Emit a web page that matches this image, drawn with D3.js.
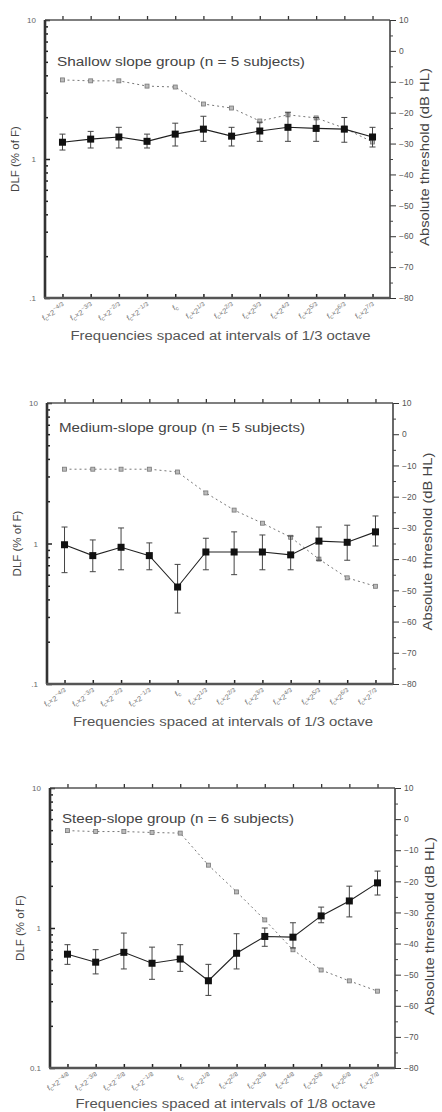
<!DOCTYPE html>
<html><head><meta charset="utf-8">
<script src="https://cdn.jsdelivr.net/npm/d3@7"></script>
<style>body{margin:0;background:#fff} svg{display:block}</style>
</head><body>
<script>
// ---------- data ----------
const stepsThird = ["-4/3","-3/3","-2/3","-1/3","","1/3","2/3","3/3","4/3","5/3","6/3","7/3"];
const stepsEighth = ["-4/8","-3/8","-2/8","-1/8","","1/8","2/8","3/8","4/8","5/8","6/8","7/8"];
const leftTicks = [0.1, 1, 10];
const leftTickLabels12 = [".1", "1", "10"];
const leftTickLabels3 = ["0.1", "1", "10"];
const rightTicks = [-80,-70,-60,-50,-40,-30,-20,-10,0,10];

const panelTitles = ["Shallow slope group (n = 5 subjects)",
                     "Medium-slope group (n = 5 subjects)",
                     "Steep-slope group (n = 6 subjects)"];
const xTitles = ["Frequencies spaced at intervals of 1/3 octave",
                 "Frequencies spaced at intervals of 1/3 octave",
                 "Frequencies spaced at intervals of 1/8 octave"];
const yLeftTitle = "DLF (% of F)";
const yRightTitle = "Absolute threshold (dB HL)";

// Shallow
const dlfShallow   = [1.32,1.39,1.44,1.34,1.51,1.64,1.46,1.59,1.69,1.66,1.64,1.44];
const dlfShallowLo = [1.16,1.20,1.20,1.20,1.24,1.34,1.24,1.34,1.34,1.34,1.32,1.22];
const dlfShallowHi = [1.51,1.58,1.69,1.51,1.81,2.03,1.69,1.84,2.17,1.99,1.99,1.69];
const thrShallow   = [-9.4,-9.7,-9.7,-11.4,-11.7,-17.2,-18.5,-22.7,-20.7,-21.7,-25,-29.5];
// Medium
const dlfMedium    = [0.98,0.82,0.94,0.82,0.49,0.87,0.87,0.87,0.83,1.04,1.02,1.21];
const dlfMediumLo  = [0.62,0.63,0.65,0.65,0.32,0.65,0.60,0.65,0.65,0.76,0.76,0.96];
const dlfMediumHi  = [1.31,1.06,1.29,1.01,0.71,1.09,1.21,1.15,1.13,1.31,1.35,1.57];
const thrMedium    = [-11.2,-11.2,-11.2,-11.2,-12.1,-18.8,-24.3,-28.5,-33,-40,-46,-48.7];
// Steep
const dlfSteep     = [0.65,0.57,0.67,0.56,0.60,0.42,0.66,0.87,0.86,1.22,1.56,2.10];
const dlfSteepLo   = [0.55,0.47,0.51,0.43,0.49,0.33,0.51,0.74,0.72,1.09,1.20,1.72];
const dlfSteepHi   = [0.76,0.70,0.92,0.73,0.76,0.55,0.91,1.00,1.09,1.41,1.99,2.55];
const thrSteep     = [-3.7,-4,-4,-4.3,-4.5,-14.8,-23.4,-32.4,-42,-48.5,-52,-55.3];

// ---------- layout ----------
const W = 442, H = 1112;
const panels = [
  {L:45, R:390, T:20,  B:298, steps:stepsThird,  lbl:leftTickLabels12, dlf:dlfShallow, lo:dlfShallowLo, hi:dlfShallowHi, thr:thrShallow, title:panelTitles[0], xt:xTitles[0], titleY:66, xtY:340, titleW:248},
  {L:47, R:393, T:403, B:684, steps:stepsThird,  lbl:leftTickLabels12, dlf:dlfMedium,  lo:dlfMediumLo,  hi:dlfMediumHi,  thr:thrMedium,  title:panelTitles[1], xt:xTitles[1], titleY:432, xtY:726, titleW:246},
  {L:50, R:395, T:788, B:1068, steps:stepsEighth, lbl:leftTickLabels3, dlf:dlfSteep,   lo:dlfSteepLo,   hi:dlfSteepHi,   thr:thrSteep,   title:panelTitles[2], xt:xTitles[2], titleY:823, xtY:1108, titleW:232}
];

const svg = d3.select("body").append("svg").attr("width", W).attr("height", H)
  .style("font-family", "'Liberation Sans', Arial, sans-serif");

panels.forEach(p => {
  const g = svg.append("g");
  const idx = d3.range(p.dlf.length);
  const x = d3.scalePoint().domain(idx).range([p.L, p.R]).padding(0.62);
  const yL = d3.scaleLog().domain([0.1, 10]).range([p.B, p.T]);
  const yR = d3.scaleLinear().domain([-80, 10]).range([p.B, p.T]);

  // minor log ticks (inward)
  const minor = [];
  [0.1, 1].forEach(d => { for (let k = 2; k <= 9; k++) minor.push(d * k); });
  const gm = g.append("g").attr("transform", `translate(${p.L},0)`)
    .call(d3.axisLeft(yL).tickValues(minor).tickFormat("").tickSizeInner(-3).tickSizeOuter(0));
  gm.select(".domain").remove();
  gm.selectAll("line").attr("stroke", "#222").attr("stroke-width", 1.5);

  const gl = g.append("g").attr("transform", `translate(${p.L},0)`)
    .call(d3.axisLeft(yL).tickValues(leftTicks).tickFormat((d, i) => p.lbl[i]).tickSizeInner(-5).tickSizeOuter(0).tickPadding(9));
  gl.select(".domain").remove();
  gl.selectAll("line").attr("stroke", "#222").attr("stroke-width", 1.5);
  gl.selectAll("text").attr("font-size", 8).attr("fill", "#666");

  // right axis
  const gr = g.append("g").attr("transform", `translate(${p.R},0)`)
    .call(d3.axisRight(yR).tickValues(rightTicks).tickSizeInner(6).tickSizeOuter(0).tickPadding(3)
      .tickFormat(d => d < 0 ? "\u2212" + Math.abs(d) : String(d)));
  gr.select(".domain").remove();
  gr.selectAll("line").attr("stroke", "#333");
  gr.selectAll("text").attr("font-size", 8.5).attr("fill", "#555");
  const grm = g.append("g").attr("transform", `translate(${p.R},0)`)
    .call(d3.axisRight(yR).tickValues(d3.range(-75, 10, 10)).tickSizeInner(3).tickSizeOuter(0).tickFormat(""));
  grm.select(".domain").remove();
  grm.selectAll("line").attr("stroke", "#444");

  // top axis ticks
  const gt = g.append("g").attr("transform", `translate(0,${p.T})`)
    .call(d3.axisTop(x).tickSizeInner(4).tickSizeOuter(0).tickFormat(""));
  gt.select(".domain").remove();
  gt.selectAll("line").attr("stroke", "#333").attr("stroke-width", 1.3);

  // bottom axis (ticks inward + rotated labels)
  const gb = g.append("g").attr("transform", `translate(0,${p.B})`)
    .call(d3.axisBottom(x).tickSizeInner(-4).tickSizeOuter(0).tickPadding(6).tickFormat(""));
  gb.select(".domain").remove();
  gb.selectAll("line").attr("stroke", "#222").attr("stroke-width", 1.5);
  gb.selectAll(".tick").each(function(d) {
    const t = d3.select(this).append("text")
      .attr("fill", "#777").attr("font-size", 7.5)
      .attr("text-anchor", "end")
      .attr("transform", "translate(3,10) rotate(-30)");
    const s = p.steps[d];
    t.append("tspan").text("f");
    t.append("tspan").attr("font-size", 6).attr("dy", 1.5).text("c");
    if (s !== "") {
      t.append("tspan").attr("dy", -1.5).text("\u00d72");
      t.append("tspan").attr("font-size", 6).attr("dy", -3.5).text(s.replace("-", "\u2212"));
    }
  });

  // frame
  g.append("line").attr("x1", p.L).attr("x2", p.R).attr("y1", p.T).attr("y2", p.T).attr("stroke", "#555").attr("stroke-width", 1.6);
  g.append("line").attr("x1", p.R).attr("x2", p.R).attr("y1", p.T).attr("y2", p.B).attr("stroke", "#444").attr("stroke-width", 1.6);
  g.append("line").attr("x1", p.L).attr("x2", p.L).attr("y1", p.T).attr("y2", p.B).attr("stroke", "#333").attr("stroke-width", 2.6);
  g.append("line").attr("x1", p.L - 1).attr("x2", p.R).attr("y1", p.B).attr("y2", p.B).attr("stroke", "#555").attr("stroke-width", 2.6);

  // threshold (dotted)
  g.append("path").datum(p.thr)
    .attr("fill", "none").attr("stroke", "#777").attr("stroke-width", 1)
    .attr("stroke-dasharray", "2,3")
    .attr("d", d3.line().x((d, i) => x(i)).y(d => yR(d)));
  g.selectAll(".thr").data(p.thr).enter().append("rect")
    .attr("x", (d, i) => x(i) - 2).attr("y", d => yR(d) - 2)
    .attr("width", 4).attr("height", 4)
    .attr("fill", "#bbb").attr("stroke", "#777").attr("stroke-width", 0.8);

  // error bars
  const eb = g.append("g").attr("stroke", "#444").attr("stroke-width", 1);
  idx.forEach(i => {
    eb.append("line").attr("x1", x(i)).attr("x2", x(i)).attr("y1", yL(p.lo[i])).attr("y2", yL(p.hi[i]));
    eb.append("line").attr("x1", x(i) - 3).attr("x2", x(i) + 3).attr("y1", yL(p.lo[i])).attr("y2", yL(p.lo[i]));
    eb.append("line").attr("x1", x(i) - 3).attr("x2", x(i) + 3).attr("y1", yL(p.hi[i])).attr("y2", yL(p.hi[i]));
  });

  // DLF line + markers
  g.append("path").datum(p.dlf)
    .attr("fill", "none").attr("stroke", "#222").attr("stroke-width", 1.1)
    .attr("d", d3.line().x((d, i) => x(i)).y(d => yL(d)));
  g.selectAll(".dlf").data(p.dlf).enter().append("rect")
    .attr("x", (d, i) => x(i) - 3.5).attr("y", d => yL(d) - 3.5)
    .attr("width", 7).attr("height", 7).attr("fill", "#111");

  // titles
  g.append("text").attr("x", p.L + 12).attr("y", p.titleY)
    .attr("font-size", 12.5).attr("fill", "#444")
    .attr("textLength", p.titleW).attr("lengthAdjust", "spacingAndGlyphs").text(p.title);
  g.append("text").attr("x", (p.L + p.R) / 2 + 3).attr("y", p.xtY)
    .attr("text-anchor", "middle").attr("font-size", 12).attr("fill", "#555")
    .attr("textLength", 300).attr("lengthAdjust", "spacingAndGlyphs").text(p.xt);
  const mid = (p.T + p.B) / 2;
  g.append("text").attr("transform", `translate(${p.L - 26},${mid}) rotate(-90)`)
    .attr("text-anchor", "middle").attr("font-size", 11.5).attr("fill", "#444").text(yLeftTitle);
  g.append("text").attr("transform", `translate(${p.R + 39},${mid - 2}) rotate(-90)`)
    .attr("text-anchor", "middle").attr("font-size", 12).attr("fill", "#444")
    .attr("textLength", 178).attr("lengthAdjust", "spacingAndGlyphs").text(yRightTitle);
});
</script>
</body></html>
